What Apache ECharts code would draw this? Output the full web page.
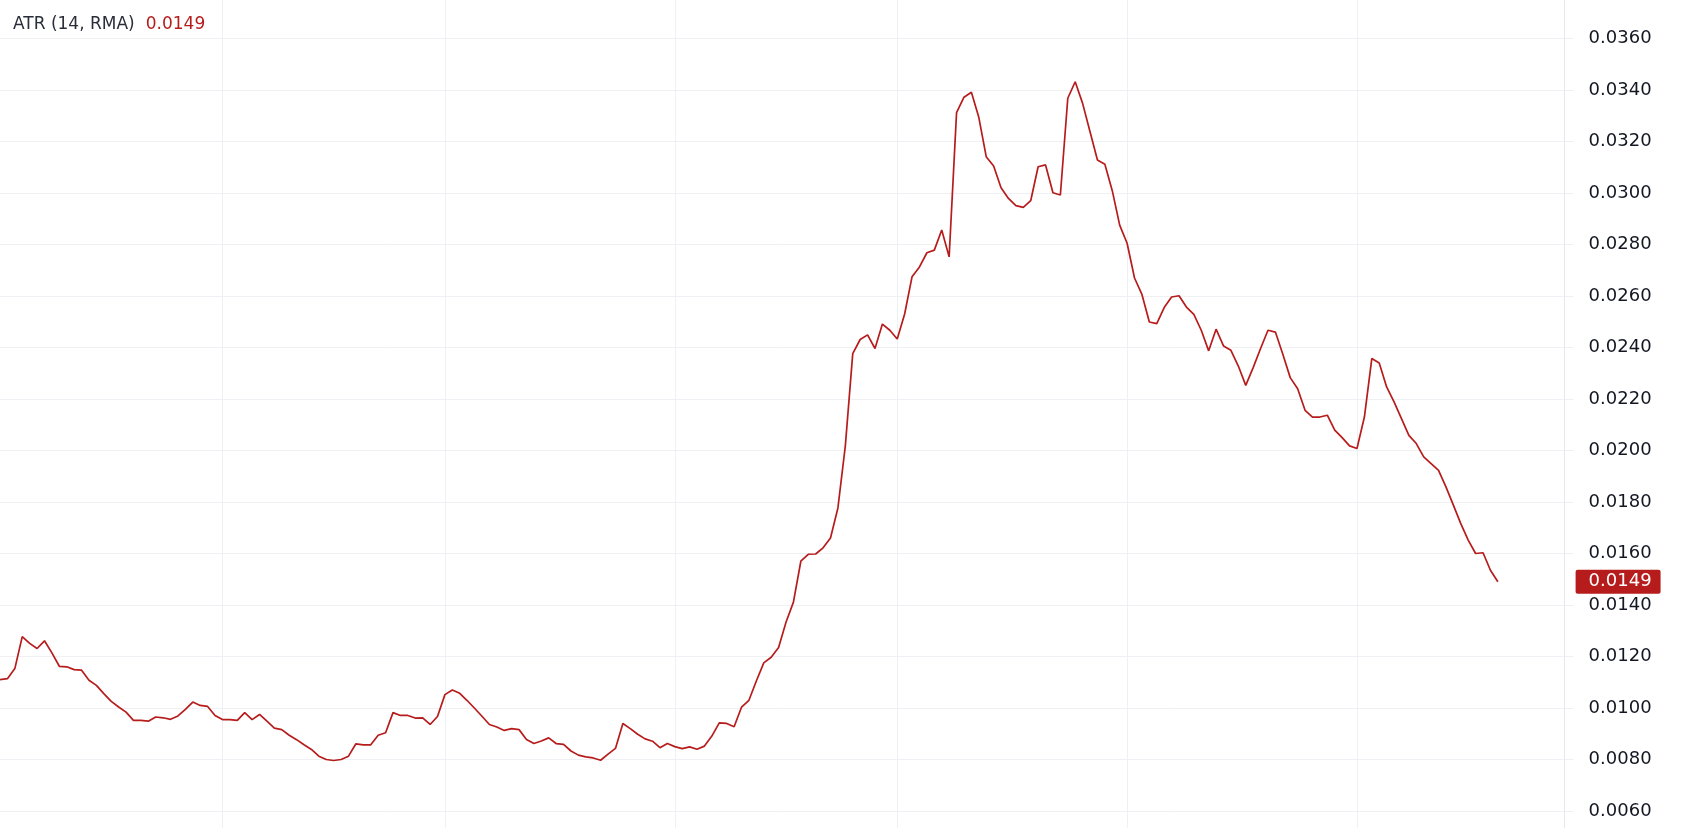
<!DOCTYPE html>
<html>
<head>
<meta charset="utf-8">
<script src="https://cdn.jsdelivr.net/npm/echarts@6/dist/echarts.min.js"></script>
<style>
html,body{margin:0;padding:0;background:#ffffff;}
#chart{width:1695px;height:839px;}
</style>
</head>
<body>
<div id="chart"></div>
<script>
// ---- data ----
const seriesName = 'ATR (14, RMA)';
const startDate = [2025, 2, 2]; // 2 Mar (month is 0-based)
const axisDays = 212;           // category slots shown on the x axis
const atrValues = [
  0.0111, 0.01114, 0.01153, 0.01277, 0.01251, 0.01231, 0.01261, 0.01214, 0.01162, 0.01160,
  0.01149, 0.01147, 0.01108, 0.01088, 0.01056, 0.01026, 0.01004, 0.00984, 0.00952, 0.00952,
  0.00949, 0.00965, 0.00962, 0.00956, 0.00969, 0.00995, 0.01023, 0.01010, 0.01006, 0.00971,
  0.00955, 0.00955, 0.00952, 0.00982, 0.00955, 0.00975, 0.00949, 0.00922, 0.00916, 0.00894,
  0.00877, 0.00857, 0.00839, 0.00813, 0.00800, 0.00796, 0.00800, 0.00813, 0.00861, 0.00857,
  0.00857, 0.00894, 0.00904, 0.00982, 0.00971, 0.00971, 0.00961, 0.00962, 0.00936, 0.00967,
  0.01052, 0.01070, 0.01057, 0.01029, 0.00999, 0.00968, 0.00936, 0.00926, 0.00913, 0.00920,
  0.00916, 0.00878, 0.00862, 0.00872, 0.00884, 0.00862, 0.00859, 0.00833, 0.00817, 0.00810,
  0.00806, 0.00797, 0.00821, 0.00843, 0.00940, 0.00920, 0.00898, 0.00880, 0.00871, 0.00846,
  0.00862, 0.00850, 0.00842, 0.00849, 0.00840, 0.00852, 0.00891, 0.00942, 0.00940, 0.00927,
  0.01003, 0.01030, 0.01105, 0.01175, 0.01197, 0.01235, 0.01333, 0.01411, 0.01570, 0.01597,
  0.01598, 0.01622, 0.01660, 0.01777, 0.02018, 0.02376, 0.02431, 0.02449, 0.02396, 0.02491,
  0.02467, 0.02433, 0.02530, 0.02675, 0.02713, 0.02768, 0.02778, 0.02856, 0.02752, 0.03312,
  0.03372, 0.03391, 0.03294, 0.03141, 0.03105, 0.03020, 0.02979, 0.02951, 0.02944, 0.02970,
  0.03102, 0.03109, 0.03001, 0.02992, 0.03368, 0.03432, 0.03348, 0.03238, 0.03128, 0.03112,
  0.03009, 0.02875, 0.02805, 0.02670, 0.02606, 0.02499, 0.02493, 0.02555, 0.02596, 0.02601,
  0.02557, 0.02529, 0.02467, 0.02387, 0.02471, 0.02406, 0.02389, 0.02328, 0.02253, 0.02322,
  0.02396, 0.02467, 0.02460, 0.02374, 0.02283, 0.02240, 0.02156, 0.02130, 0.02130, 0.02137,
  0.02079, 0.02050, 0.02018, 0.02008, 0.02130, 0.02357, 0.02340, 0.02247, 0.02189, 0.02124,
  0.02059, 0.02027, 0.01975, 0.01949, 0.01923, 0.01859, 0.01788, 0.01716, 0.01652, 0.01600,
  0.01603, 0.01535, 0.0149
];
const yMin = 0.0060, yMax = 0.0360, yStep = 0.0020;

// ---- categories (daily dates) ----
const categories = [];
for (let i = 0; i < axisDays; i++) {
  const d = new Date(Date.UTC(startDate[0], startDate[1], startDate[2] + i));
  categories.push(d.toISOString().slice(0, 10));
}
const lastValue = atrValues[atrValues.length - 1];
const lineColor = '#B71C1C';
const gridColor = '#eff0f3';
const textColor = '#131722';
const font = 'DejaVu Sans';

const chart = echarts.init(document.getElementById('chart'), null, {renderer: 'canvas'});
const gridLeft = -2.3, gridRight = 130.4;

chart.setOption({
  animation: false,
  backgroundColor: '#ffffff',
  title: {
    left: 8, top: 11,
    text: '{n|' + seriesName + '}{v|' + lastValue.toFixed(4) + '}',
    textStyle: {
      fontWeight: 'normal', fontFamily: font, fontSize: 17,
      rich: {
        n: {fontFamily: font, fontSize: 17, fontWeight: 'normal', color: '#2a2e39'},
        v: {fontFamily: font, fontSize: 17, fontWeight: 'normal', color: lineColor, padding: [0, 0, 0, 11]}
      }
    }
  },
  grid: [
    {left: gridLeft, right: gridRight, top: 38.5, bottom: 28, containLabel: false},
    {left: gridLeft, right: gridRight, top: 0, bottom: 11, containLabel: false}
  ],
  xAxis: [
    {
      type: 'category', gridIndex: 0, data: categories, boundaryGap: false,
      show: false
    },
    {
      type: 'category', gridIndex: 1, data: categories, boundaryGap: false,
      axisLine: {show: false}, axisTick: {show: false}, axisLabel: {show: false},
      splitLine: {
        show: true,
        interval: function (index, value) { return value.slice(8) === '01'; },
        lineStyle: {color: gridColor, width: 1}
      }
    }
  ],
  yAxis: [
    {
      type: 'value', gridIndex: 0, position: 'right',
      min: yMin, max: yMax, interval: yStep,
      axisLine: {show: false},
      axisTick: {show: true, length: 9, lineStyle: {color: gridColor}},
      axisLabel: {
        margin: 24, color: textColor, fontFamily: font, fontSize: 18,
        formatter: function (v) { return v.toFixed(4); }
      },
      splitLine: {show: true, lineStyle: {color: gridColor, width: 1}}
    },
    {
      type: 'value', gridIndex: 1, position: 'right', min: 0, max: 1,
      axisLine: {show: true, lineStyle: {color: '#e6e7eb', width: 1}},
      axisTick: {show: false}, axisLabel: {show: false}, splitLine: {show: false}
    }
  ],
  series: [
    {
      type: 'line', xAxisIndex: 0, yAxisIndex: 0,
      data: atrValues, showSymbol: false, symbol: 'none', smooth: false,
      lineStyle: {color: lineColor, width: 1.7},
      silent: true,
      markLine: {
        silent: true, symbol: ['none', 'none'], precision: 6,
        lineStyle: {color: 'rgba(0,0,0,0)', width: 1, type: 'solid'},
        data: [{yAxis: lastValue}],
        label: {
          show: true, position: 'end', distance: 11,
          formatter: function () { return lastValue.toFixed(4); },
          color: '#ffffff', backgroundColor: lineColor,
          fontFamily: font, fontSize: 18,
          padding: [3, 9, 3, 13], borderRadius: 2
        }
      }
    }
  ]
});
</script>
</body>
</html>
